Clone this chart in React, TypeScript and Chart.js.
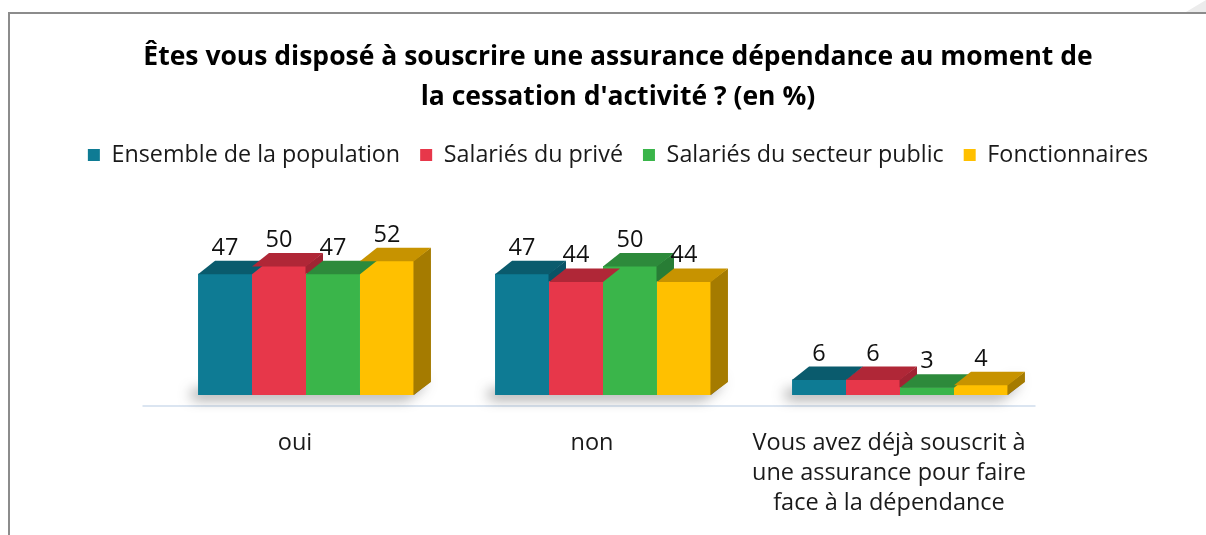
import React, { useEffect, useRef } from "react";
import { Chart, registerables } from "chart.js";

Chart.register(...registerables);

const FONT = "'Open Sans', 'Noto Sans', sans-serif";

const titleLines = [
  "Êtes vous disposé à souscrire une assurance dépendance au moment de",
  "la cessation d'activité ? (en %)",
];
const categories: (string | string[])[] = [
  "oui",
  "non",
  ["Vous avez déjà souscrit à", "une assurance pour faire", "face à la dépendance"],
];
const seriesNames = [
  "Ensemble de la population",
  "Salariés du privé",
  "Salariés du secteur public",
  "Fonctionnaires",
];
const ensemble = [47, 47, 6];
const prive = [50, 44, 6];
const secteurPublic = [47, 50, 3];
const fonctionnaires = [52, 44, 4];
const seriesValues = [ensemble, prive, secteurPublic, fonctionnaires];

const frontColors = ["#0e7b94", "#e7374a", "#3ab54a", "#ffc000"];
const topColors = ["#0a5b6d", "#b02737", "#2d8a3b", "#c79300"];
const sideColors = ["#0a5366", "#a02433", "#287d35", "#a57b00"];

const DX = 17;
const DY = 13;

const framePlugin = {
  id: "frame",
  beforeDraw(chart: any) {
    const ctx = chart.ctx;
    ctx.save();
    ctx.fillStyle = "#ffffff";
    ctx.fillRect(0, 0, chart.width, chart.height);
    ctx.fillStyle = "#ececec";
    ctx.beginPath();
    ctx.moveTo(1186, 12);
    ctx.lineTo(1206, 0);
    ctx.lineTo(1206, 12);
    ctx.closePath();
    ctx.fill();
    ctx.strokeStyle = "#8c8c8c";
    ctx.lineWidth = 2;
    ctx.beginPath();
    ctx.moveTo(9, chart.height);
    ctx.lineTo(9, 13);
    ctx.lineTo(chart.width, 13);
    ctx.stroke();
    ctx.restore();
  },
  beforeDatasetsDraw(chart: any) {
    const ctx = chart.ctx;
    const area = chart.chartArea;
    const n = chart.data.labels.length;
    const nd = chart.data.datasets.length;
    ctx.save();
    ctx.strokeStyle = "#dbe5f1";
    ctx.lineWidth = 2;
    ctx.beginPath();
    ctx.moveTo(area.left - 15, area.bottom + 11);
    ctx.lineTo(area.right - 13, area.bottom + 11);
    ctx.stroke();
    for (let j = 0; j < n; j++) {
      const first = chart.getDatasetMeta(0).data[j];
      const last = chart.getDatasetMeta(nd - 1).data[j];
      const L = first.x - first.width / 2;
      const R = last.x + last.width / 2;
      const base = first.base;
      ctx.save();
      ctx.shadowColor = "rgba(0,0,0,0.75)";
      ctx.shadowBlur = 14;
      ctx.shadowOffsetX = -7;
      ctx.shadowOffsetY = 2;
      ctx.fillStyle = "#666666";
      ctx.beginPath();
      ctx.moveTo(L + 1, base);
      ctx.lineTo(R, base);
      ctx.lineTo(R + DX - 1, base - DY);
      ctx.lineTo(R + DX - 1, base - DY - 5);
      ctx.lineTo(R, base - 5);
      ctx.lineTo(L + 1, base - 5);
      ctx.closePath();
      ctx.fill();
      ctx.restore();
    }
    ctx.restore();
  },
  afterDatasetsDraw(chart: any) {
    const ctx = chart.ctx;
    const n = chart.data.labels.length;
    const nd = chart.data.datasets.length;
    ctx.save();
    for (let j = 0; j < n; j++) {
      for (let i = 0; i < nd; i++) {
        const bar = chart.getDatasetMeta(i).data[j];
        const R = bar.x + bar.width / 2;
        const y = bar.y;
        const base = bar.base;
        ctx.save();
        if (i < nd - 1) {
          const next = chart.getDatasetMeta(i + 1).data[j];
          ctx.beginPath();
          ctx.rect(R - 1, 0, DX + 2, next.y);
          ctx.clip();
        }
        ctx.fillStyle = sideColors[i];
        ctx.beginPath();
        ctx.moveTo(R - 0.5, y);
        ctx.lineTo(R + DX, y - DY);
        ctx.lineTo(R + DX, base - DY);
        ctx.lineTo(R - 0.5, base);
        ctx.closePath();
        ctx.fill();
        ctx.restore();
      }
      for (let i = 0; i < nd; i++) {
        const bar = chart.getDatasetMeta(i).data[j];
        const L = bar.x - bar.width / 2;
        const R = bar.x + bar.width / 2;
        const y = bar.y;
        ctx.fillStyle = topColors[i];
        ctx.beginPath();
        ctx.moveTo(L, y + 0.5);
        ctx.lineTo(L + DX, y - DY);
        ctx.lineTo(R + DX, y - DY);
        ctx.lineTo(R, y + 0.5);
        ctx.closePath();
        ctx.fill();
      }
    }
    ctx.fillStyle = "#111111";
    ctx.font = `23.5px ${FONT}`;
    ctx.textAlign = "center";
    ctx.textBaseline = "alphabetic";
    for (let i = 0; i < nd; i++) {
      const meta = chart.getDatasetMeta(i);
      meta.data.forEach((bar: any, j: number) => {
        const v = chart.data.datasets[i].data[j];
        ctx.fillText(String(v), bar.x, bar.y - DY - 6);
      });
    }
    ctx.restore();
  },
};

export default function App() {
  const ref = useRef<HTMLCanvasElement>(null);
  useEffect(() => {
    if (!ref.current) return;
    const chart = new Chart(ref.current, {
      type: "bar",
      data: {
        labels: categories as any,
        datasets: seriesNames.map((name, i) => ({
          label: name,
          data: seriesValues[i],
          backgroundColor: frontColors[i],
          borderWidth: 0,
          categoryPercentage: 0.727,
          barPercentage: 1,
        })),
      },
      options: {
        responsive: false,
        animation: false,
        events: [],
        layout: { padding: { left: 30, right: 0, top: 0, bottom: 17 } },
        plugins: {
          title: {
            display: true,
            text: titleLines,
            color: "#000000",
            font: { family: FONT, size: 26.5, weight: "bold", lineHeight: 40 / 26.5 },
            padding: { top: 37, bottom: 6.35 },
          },
          legend: {
            position: "top",
            labels: {
              boxWidth: 12,
              boxHeight: 12,
              padding: 20,
              color: "#1a1a1a",
              font: { family: FONT, size: 23.3 },
            },
          },
          tooltip: { enabled: false },
        },
        scales: {
          x: {
            grid: { display: false, drawTicks: false },
            border: { display: false },
            ticks: {
              color: "#1a1a1a",
              font: { family: FONT, size: 23.5, lineHeight: 30 / 23.5 },
              padding: 33,
              labelOffset: -11,
              maxRotation: 0,
              autoSkip: false,
            },
            afterFit: (s: any) => {
              s.height = 123;
            },
          },
          y: {
            position: "left",
            min: 0,
            max: 84.6,
            ticks: { display: false },
            grid: { display: false, drawTicks: false },
            border: { display: false },
            afterFit: (s: any) => {
              s.width = 127.5;
            },
          },
          y2: {
            position: "right",
            min: 0,
            max: 1,
            ticks: { display: false },
            grid: { display: false, drawTicks: false },
            border: { display: false },
            afterFit: (s: any) => {
              s.width = 157.5;
            },
          },
        },
      } as any,
      plugins: [framePlugin],
    });
    return () => chart.destroy();
  }, []);
  return (
    <div style={{ position: "absolute", left: 0, top: 0, width: 1206, height: 535 }}>
      <canvas ref={ref} width={1206} height={535} style={{ display: "block" }} />
    </div>
  );
}
